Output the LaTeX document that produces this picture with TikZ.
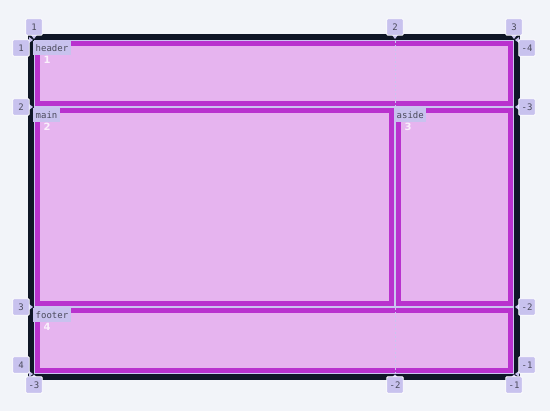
\documentclass[tikz,border=0pt]{standalone}
\usepackage{fontspec}
\setmonofont{DejaVu Sans Mono}
\setsansfont{DejaVu Sans}
\definecolor{bg}{HTML}{F2F4F9}
\definecolor{dark}{HTML}{0F1626}
\definecolor{mag}{HTML}{B932CE}
\definecolor{itemfill}{HTML}{E6B4EF}
\definecolor{lab}{HTML}{C8C2EE}
\definecolor{labtext}{HTML}{4B4B5C}
\definecolor{gline}{HTML}{CBC4F0}
\begin{document}
\begin{tikzpicture}[x=1pt,y=-1pt,
  linelab/.style={rectangle, fill=lab, draw=white, line width=0.8pt, minimum width=16.5pt, minimum height=16.5pt, inner sep=0.5pt, font=\ttfamily\fontsize{9}{9}\selectfont, text=labtext, rounded corners=1pt},
  ptr/.style={fill=lab},
  arealab/.style={rectangle, fill=lab, inner xsep=2.5pt, inner ysep=0pt, minimum height=14pt, font=\ttfamily\fontsize{9}{10}\selectfont, text=labtext, anchor=north west},
  areanum/.style={font=\sffamily\bfseries\fontsize{10}{10}\selectfont, text=white, text opacity=0.8},
  item/.style={draw=mag, line width=5pt, fill=itemfill},
  gapline/.style={draw=gline, line width=1pt, dash pattern=on 2pt off 2pt},
]
\useasboundingbox (0,0) rectangle (550,411);
\fill[bg] (0,0) rectangle (550,411);
% container
\fill[dark] (28,34) rectangle (520,380);
\fill[gline] (34,40) rectangle (514,374);
% items
\draw[item] (37.5,43.5) rectangle (510.5,103.5);
\draw[item] (37.5,110.5) rectangle (391.5,303.5);
\draw[item] (398.5,110.5) rectangle (510.5,303.5);
\draw[item] (37.5,310.5) rectangle (510.5,370.5);
% dashed column line through spanning items
\coordinate (d1) at (395,41);
\coordinate (d2) at (395,106);
\coordinate (d3) at (395,308);
\coordinate (d4) at (395,373);
\draw[gapline] (d1) -- (d2);
\draw[gapline] (d3) -- (d4);
% area names
\node[arealab] (hname) at (33,41) {header};
\node[arealab] (mname) at (33,108) {main};
\node[arealab] (aname) at (394,108) {aside};
\node[arealab] (fname) at (33,308) {footer};
\node[areanum] (n1) at (47,60) {1};
\node[areanum] (n2) at (47,127) {2};
\node[areanum] (n3) at (408,127) {3};
\node[areanum] (n4) at (47,327) {4};
% top column labels
\foreach \n/\x/\t in {tc1/34/1, tc2/395/2, tc3/514/3}{
  \fill[ptr] (\x-3,35) -- (\x,39) -- (\x+3,35) -- cycle;
  \node[linelab] (\n) at (\x,27) {\t};
}
% bottom column labels
\foreach \n/\x/\t in {bc1/34/-3, bc2/395/-2, bc3/514/-1}{
  \fill[ptr] (\x-3,377.5) -- (\x,374.5) -- (\x+3,377.5) -- cycle;
  \node[linelab] (\n) at (\x,385) {\t};
}
% left row labels
\foreach \n/\y/\ty/\t in {lr1/40/48/1, lr2/107/107/2, lr3/307/307/3, lr4/374/365/4}{
  \fill[ptr] (29,\y-3) -- (33,\y) -- (29,\y+3) -- cycle;
  \node[linelab] (\n) at (21,\ty) {\t};
}
% right row labels
\foreach \n/\y/\ty/\t in {rr1/40/48/-4, rr2/107/107/-3, rr3/307/307/-2, rr4/374/365/-1}{
  \fill[ptr] (519,\y-3) -- (515,\y) -- (519,\y+3) -- cycle;
  \node[linelab] (\n) at (527,\ty) {\t};
}
\end{tikzpicture}
\end{document}
